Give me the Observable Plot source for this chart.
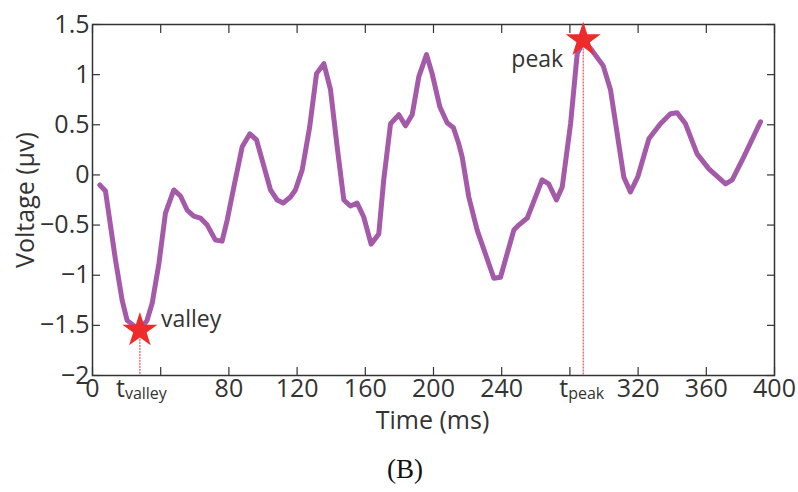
<!DOCTYPE html>
<html><head><meta charset="utf-8">
<script src="https://cdn.jsdelivr.net/npm/d3@7"></script>
<script src="https://cdn.jsdelivr.net/npm/@observablehq/plot@0.6"></script>
<style>
body{margin:0;background:#fff;}
#wrap{position:relative;width:798px;height:492px;}
#caption{position:absolute;left:0;top:452px;width:798px;text-align:center;font-family:"Liberation Serif","Times New Roman",serif;font-size:27px;color:#111;line-height:34px;padding-left:12px;box-sizing:border-box;}
</style></head><body>
<div id="wrap"><div id="chart"></div><div id="caption">(B)</div></div>
<script>
const time = [4.3,7.6,13.5,17.4,20.3,27.8,32,35,38.9,42.8,47.7,51.6,55.5,59.4,63.3,67.3,72.1,76,79,82.9,87.8,92.3,96.2,104.4,108.3,111.8,116.1,119,123,127.4,131.4,135.7,139.6,143.5,147.4,151.3,155.2,159.1,163.4,167.9,170.8,174.8,179.7,183.6,187.5,191.4,195.9,199.2,203.7,208,211.7,214.8,216.8,220.7,225.6,235.4,239.3,247.1,250,255,263.7,267.6,272.1,275.5,280.4,284.3,287.8,292.1,299.5,303.8,311.6,315.5,319.8,326.3,333.1,339,342.9,347.8,354.6,361.5,371.3,375.2,382,391.8];
const voltage = [-0.10,-0.16,-0.85,-1.25,-1.45,-1.55,-1.45,-1.28,-0.89,-0.38,-0.15,-0.21,-0.35,-0.41,-0.43,-0.50,-0.65,-0.66,-0.45,-0.12,0.28,0.41,0.35,-0.15,-0.25,-0.28,-0.22,-0.15,0.05,0.48,1.01,1.11,0.85,0.28,-0.25,-0.31,-0.28,-0.42,-0.69,-0.59,-0.05,0.51,0.60,0.49,0.60,0.98,1.20,1.01,0.68,0.52,0.47,0.31,0.18,-0.22,-0.55,-1.03,-1.02,-0.55,-0.50,-0.43,-0.05,-0.09,-0.25,-0.12,0.51,1.21,1.33,1.26,1.09,0.85,-0.02,-0.17,-0.02,0.36,0.51,0.61,0.62,0.51,0.21,0.06,-0.09,-0.05,0.18,0.53];

const xTicks = [0,40,80,120,160,200,240,280,320,360,400];
const xTickLabels = ["0","","80","120","160","200","240","","320","360","400"];
const yTicks = [-2,-1.5,-1,-0.5,0,0.5,1,1.5];
const yTickLabels = ["\u22122","\u22121.5","\u22121","\u22120.5","0","0.5","1","1.5"];

const eventNames = ["valley","peak"];
const eventTimes = [27.8,287.8];
const eventValues = [-1.55,1.345];

const series = time.map((t,i)=>({t, v: voltage[i]}));
const events = eventNames.map((name,i)=>({name, t: eventTimes[i], v: eventValues[i]}));
const xLabels = xTicks.map((t,i)=>({t, label: xTickLabels[i]})).filter(d=>d.label!=="");

const ink = "#333";
const purple = "#a55aa9";
const red = "#ee2b2b";

const chart = Plot.plot({
  width: 798, height: 440,
  marginLeft: 92, marginRight: 24, marginTop: 24, marginBottom: 65,
  style: {fontFamily: "'Open Sans', sans-serif", fontSize: "25px", color: ink, background: "#fff"},
  x: {domain: [0,400]},
  y: {domain: [-2,1.5]},
  marks: [
    Plot.axisX({anchor:"bottom", ticks: xTicks, tickSize:-8, tickFormat: ()=>"", label:null, stroke: ink, strokeWidth:1.2}),
    Plot.axisX({anchor:"top", ticks: xTicks, tickSize:-8, tickFormat: ()=>"", label:null, stroke: ink, strokeWidth:1.2}),
    Plot.axisY({anchor:"left", ticks: yTicks, tickSize:-8, tickPadding:11, tickFormat: d=>yTickLabels[yTicks.indexOf(d)], label:null, stroke: ink, strokeWidth:1.2, fontSize:25, fill: ink}),
    Plot.axisY({anchor:"right", ticks: yTicks, tickSize:-8, tickFormat: ()=>"", label:null, stroke: ink, strokeWidth:1.2}),
    Plot.frame({stroke: ink, strokeWidth: 1.5}),
    // x tick labels
    Plot.text(xLabels, {x:"t", text:"label", frameAnchor:"bottom", lineAnchor:"top", dy:4, fontSize:25, fill: ink}),
    // t_valley / t_peak labels
    Plot.text(events, {x:"t", text: ()=>"t", frameAnchor:"bottom", lineAnchor:"top", dy:4, dx:-15, textAnchor:"end", fontSize:25, fill: ink}),
    Plot.text(events, {x:"t", text:"name", frameAnchor:"bottom", lineAnchor:"top", dy:12, dx:-15, textAnchor:"start", fontSize:16, fill: ink}),
    // axis titles
    Plot.text(["Time (ms)"], {frameAnchor:"bottom", text: d=>d, textAnchor:"middle", lineAnchor:"top", dy:36, dx:-1, fontSize:25, fill: ink}),
    Plot.text(["Voltage (\u00b5v)"], {frameAnchor:"left", text: d=>d, textAnchor:"middle", rotate:-90, dx:-67, fontSize:25, fill: ink}),
    // dashed guide rules
    Plot.ruleX(events, {x:"t", y1:"v", y2: -2, stroke: red, strokeWidth:1, strokeDasharray:"2,1"}),
    // curve
    Plot.line(series, {x:"t", y:"v", stroke: purple, strokeWidth:5, strokeLinejoin:"round", strokeLinecap:"round"}),
    // stars
    Plot.dot(events, {x:"t", y:"v", symbol:"star", r:11, fill: red, stroke:"none"}),
    // event annotations
    Plot.text(events.filter(d=>d.name==="valley"), {x:"t", y:"v", text:"name", textAnchor:"start", dx:21, dy:-11, fontSize:23, fill: ink}),
    Plot.text(events.filter(d=>d.name==="peak"), {x:"t", y:"v", text:"name", textAnchor:"end", dx:-20, dy:20, fontSize:23, fill: ink})
  ]
});
document.getElementById("chart").appendChild(chart);
</script>
</body></html>
